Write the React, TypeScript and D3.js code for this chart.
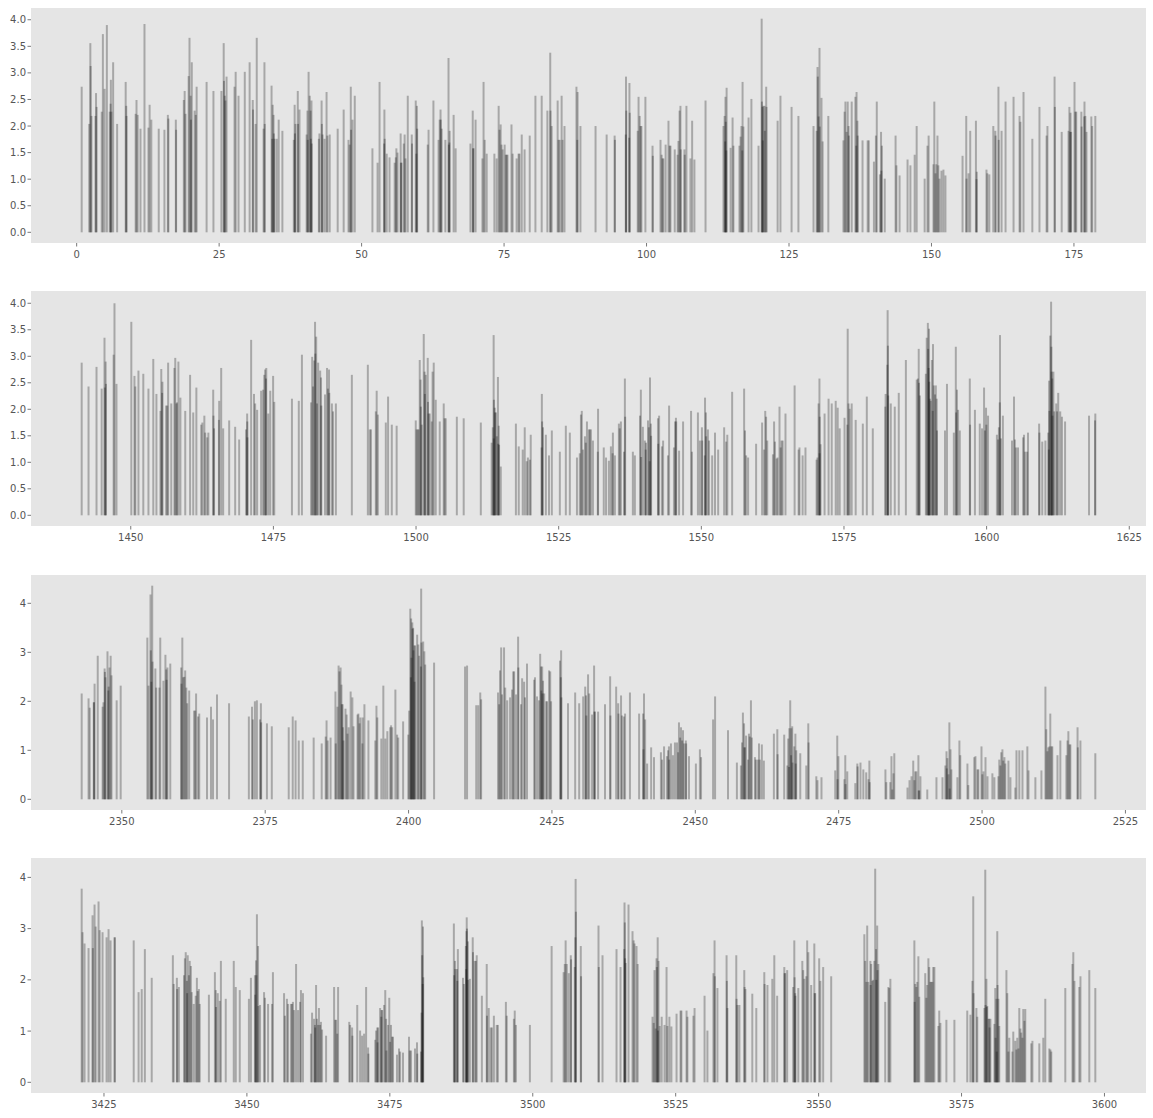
import React from 'react';
import * as d3 from 'd3';

// Each entry: [time, value]
const panel1: [number, number][] = [
[0.88,2.74],
[2.2,2.04],[2.4,3.56],[2.45,3.13],[2.6,2.19],
[3.3,2.19],[3.4,2.62],[3.5,2.36],
[4.4,2.27],[4.6,3.73],
[4.9,2.7],[5.3,3.9],
[5.8,2.27],[5.95,2.42],[6.0,2.87],[6.1,2.27],
[6.4,3.2],[7.1,2.04],
[8.6,2.83],[8.7,2.38],[8.75,2.19],
[10.35,2.23],[10.5,2.49],[10.7,2.21],
[11.2,1.95],[11.9,3.92],
[12.6,1.97],[12.8,2.4],[13.1,2.12],
[14.4,1.95],[15.4,1.93],[16.0,2.21],[16.1,2.14],
[17.4,2.12],[17.45,1.93],
[18.8,2.49],[18.95,2.66],[19.1,2.23],
[19.65,2.94],[19.8,3.66],[20.0,2.57],[20.05,2.12],[20.2,3.2],
[20.7,2.29],[20.9,2.21],[21.05,2.74],
[22.8,2.83],[24.0,2.66],
[25.4,2.66],[25.8,3.56],[25.85,2.85],[26.0,2.57],[26.1,2.48],[26.3,2.93],
[27.7,2.74],[27.9,3.02],[28.4,2.57],
[29.5,3.02],[30.35,3.2],[30.9,2.49],[30.95,2.31],
[31.4,2.04],[31.6,3.66],
[32.8,1.95],[32.95,3.2],[33.0,2.04],
[34.2,2.76],[34.3,1.76],[34.4,2.4],[34.55,2.21],[34.6,1.86],[34.7,1.76],[35.1,1.76],[35.45,2.12],[36.1,1.91],
[38.1,1.74],[38.25,2.4],[38.3,1.86],[38.4,2.04],[38.8,2.66],[38.85,2.04],[39.1,2.31],
[40.35,1.84],[40.5,2.29],[40.55,1.74],[40.7,3.02],[40.9,2.57],[41.05,2.29],[41.1,1.76],[41.2,2.48],[41.25,1.67],
[42.5,1.76],[42.6,1.86],[42.98,2.48],[43.03,2.04],[43.15,1.84],[43.5,1.76],[43.85,2.64],[44.0,1.82],[44.4,1.84],
[45.8,1.95],[46.85,2.31],
[47.7,1.74],[47.9,1.65],[48.1,2.74],[48.15,1.93],[48.4,2.12],[48.8,2.57],
[51.9,1.58],[52.8,1.31],[53.15,2.83],
[53.95,1.67],[54.0,2.31],[54.05,1.76],[54.4,1.48],[54.9,1.41],
[55.8,1.31],[56.0,1.41],[56.1,1.58],[56.3,1.5],[56.85,1.86],[56.9,1.31],[57.0,1.31],[57.4,1.67],[57.55,1.84],[57.7,1.39],[58.1,2.57],[58.8,1.84],[58.85,1.67],[59.5,2.48],[59.6,1.48],[59.7,2.38],[59.75,1.95],
[61.6,1.65],[61.75,1.93],[62.6,2.48],
[63.5,1.74],[63.7,2.12],[63.85,2.31],[63.9,2.12],[64.05,1.95],
[64.7,1.74],[65.25,3.28],[65.3,1.65],[65.4,1.69],[65.45,1.91],[66.15,2.21],[66.5,1.58],
[69.1,1.67],[69.5,2.29],[69.55,1.58],[69.65,1.58],[70.0,2.12],
[71.2,1.39],[71.4,2.83],[71.6,1.74],[71.95,1.48],
[73.3,1.48],[73.7,1.39],[74.05,2.38],[74.2,1.93],[74.4,2.03],[74.55,1.65],[74.75,1.56],[75.1,1.65],[75.3,1.46],[75.45,1.46],[75.6,1.46],
[76.3,2.03],[76.5,1.48],[77.2,1.39],[77.55,1.48],[77.7,1.48],[78.1,1.84],[78.6,1.56],[79.5,1.82],
[80.5,2.57],[81.6,2.57],[82.6,2.29],[83.1,3.38],[83.15,2.29],[83.35,2.0],
[84.4,2.48],[84.55,1.74],[84.75,1.74],[85.1,2.57],[85.25,1.74],[85.6,2.0],
[87.7,2.74],[87.85,1.74],[87.9,2.64],[88.4,2.0],
[91.05,2.0],[93.0,1.84],[94.4,1.82],[94.45,1.74],
[96.35,1.84],[96.4,2.93],[96.45,2.29],[96.95,1.78],[97.0,2.81],[97.05,2.25],
[98.45,1.91],[98.6,2.55],[98.8,2.19],[98.95,2.0],[99.1,2.0],[99.8,2.55],
[101.05,1.63],[101.1,1.44],
[102.45,1.74],[102.65,1.46],[102.8,1.39],[102.95,1.39],[103.35,1.65],[103.85,2.1],[104.05,1.63],[104.2,1.63],
[104.95,1.56],[105.45,1.46],[105.6,1.72],[105.8,2.29],[105.95,2.38],[106.0,1.56],[106.65,1.56],[106.7,1.46],[107.0,2.38],[107.7,1.39],[108.0,2.1],[108.4,1.37],
[110.35,2.48],
[113.5,2.0],[113.7,2.19],[113.8,1.71],[113.85,2.55],[113.9,2.08],[114.0,1.54],[114.05,2.72],[114.75,1.59],[115.1,2.16],[115.25,1.63],
[116.3,1.63],[116.5,1.8],[116.65,2.0],[116.8,1.54],[116.85,2.83],[117.0,1.99],
[117.9,2.16],[118.4,2.51],
[119.65,1.63],[120.2,4.02],[120.25,2.46],[120.35,2.36],[120.4,1.73],[120.5,2.38],[120.7,2.38],[120.75,1.91],[121.0,2.74],[121.05,2.36],
[123.0,2.1],[123.5,2.57],[125.45,2.36],[126.65,2.19],
[129.3,2.0],[129.85,1.91],[130.0,3.11],[130.05,2.93],[130.2,2.18],[130.35,3.47],[130.4,1.99],[130.7,2.53],[130.9,1.71],[131.9,2.19],
[134.55,1.73],[134.75,2.27],[134.9,2.46],[135.1,1.89],[135.3,2.46],[135.45,2.0],[135.5,1.82],[136.0,2.46],[136.65,2.55],[136.8,1.63],[136.85,2.64],[137.0,2.1],[137.05,1.82],[137.9,1.73],
[138.8,1.73],[139.0,1.73],
[139.9,1.33],[140.25,1.82],[140.4,2.46],[140.95,1.09],[141.15,1.89],[141.2,1.16],[141.3,1.63],[141.8,1.01],
[143.7,1.82],[143.85,1.26],[144.4,1.07],
[145.8,1.37],[146.3,1.26],[147.05,1.46],[147.4,2.0],
[148.8,1.01],[149.3,1.63],[149.5,1.82],[150.35,1.28],[150.5,2.46],[150.7,1.11],[150.85,1.28],[151.05,1.82],[151.2,1.26],[151.4,1.01],[151.75,1.16],[152.1,1.18],[152.45,1.07],
[155.45,1.44],[156.1,2.19],[156.15,1.01],[156.5,1.11],[156.8,1.91],[157.8,2.1],[157.9,1.0],[157.95,1.14],
[159.65,1.18],[159.8,1.11],[160.15,1.09],[160.85,2.0],[161.2,1.91],[161.25,1.82],[161.75,2.74],[161.8,1.74],[162.3,1.91],[163.0,2.46],
[164.4,2.55],[165.45,2.19],[165.6,2.08],[166.15,2.64],
[167.7,1.76],[168.95,2.36],[170.2,1.82],[170.35,2.0],[171.6,2.93],[171.65,2.36],[172.85,1.89],
[174.05,1.91],[174.2,2.36],[174.35,1.89],[174.4,2.25],[174.5,1.89],[175.1,2.83],[175.25,2.27],[175.4,2.27],[176.3,2.27],[176.35,1.99],[176.8,2.18],[176.85,2.46],[177.0,2.19],[177.2,1.89],[178.05,2.18],[178.2,2.0],[178.75,2.19]
];

const panel2: [number, number][] = [
[1441.4,2.88],[1442.6,2.43],[1444.0,2.8],
[1444.9,2.39],[1445.4,3.35],[1445.45,2.41],[1445.6,2.9],[1445.65,2.48],
[1447.0,3.03],[1447.15,4.0],[1447.5,2.48],
[1450.1,3.65],[1450.65,2.63],[1450.8,2.43],[1451.35,2.73],
[1452.2,2.67],[1453.1,2.39],[1453.95,2.95],[1454.5,2.29],
[1455.2,1.97],[1455.35,2.76],[1455.5,2.31],[1455.55,2.52],[1456.2,2.07],[1456.4,2.07],[1456.55,2.88],
[1457.1,2.11],[1457.65,2.78],[1457.8,2.97],[1458.0,2.11],[1458.1,2.13],[1458.35,2.9],[1458.7,2.22],
[1459.55,1.97],[1460.4,2.65],[1460.95,1.94],[1461.5,2.41],
[1462.35,1.71],[1462.55,1.75],[1462.9,1.88],[1463.05,1.56],[1463.4,1.47],[1463.6,1.56],[1464.45,2.37],[1464.5,1.88],[1464.6,1.64],
[1465.45,1.8],[1465.5,2.16],[1465.85,2.78],[1466.2,1.64],
[1467.25,1.79],[1468.3,1.67],[1469.0,1.43],
[1470.2,1.62],[1470.4,1.92],[1470.42,1.77],[1470.45,1.47],[1471.1,3.31],[1471.6,2.29],[1471.8,2.11],[1472.15,1.99],
[1472.85,2.35],[1473.2,2.37],[1473.4,2.65],[1473.55,2.75],[1473.7,2.58],[1473.75,2.78],[1474.1,1.92],[1474.45,2.35],[1474.95,2.63],[1475.15,2.14],
[1478.25,2.2],[1479.45,2.16],[1480.0,3.03],
[1481.6,2.13],[1481.8,2.99],[1481.95,2.43],[1482.15,2.92],[1482.3,3.65],[1482.35,3.05],[1482.5,3.37],[1482.65,2.11],[1482.85,2.88],[1483.2,2.73],[1483.35,2.6],[1483.4,2.07],
[1484.05,2.28],[1484.4,2.78],[1484.55,2.39],[1484.75,2.75],[1484.8,2.31],[1485.25,2.11],[1485.45,1.96],[1485.95,2.11],
[1488.75,2.65],
[1491.55,2.84],[1491.9,1.62],[1492.1,1.62],[1492.95,1.96],[1493.1,2.35],[1493.3,1.9],[1494.7,1.75],[1495.1,2.24],[1495.75,1.71],[1496.6,1.69],
[1499.95,1.79],[1500.1,1.62],[1500.3,1.62],[1500.45,1.62],[1500.65,2.93],[1500.8,2.56],[1500.85,2.05],[1501.0,1.71],[1501.35,3.42],[1501.5,2.71],[1501.55,2.29],[1501.7,2.65],[1502.05,2.97],[1502.1,2.14],[1502.2,1.92],[1502.4,1.92],[1502.75,1.77],[1502.9,2.71],[1503.1,2.88],[1503.45,2.18],[1504.15,1.77],[1504.85,2.11],[1505.0,1.83],[1505.2,1.83],
[1507.15,1.86],[1508.35,1.83],[1511.35,1.75],
[1513.25,1.37],[1513.45,1.66],[1513.6,3.4],[1513.62,1.45],[1513.65,2.18],[1513.8,2.03],[1513.85,1.94],[1514.0,1.94],[1514.15,1.49],[1514.35,2.61],[1514.4,1.35],[1514.5,1.69],[1514.55,1.33],[1514.85,0.92],
[1517.5,1.73],[1518.0,1.3],[1518.7,1.24],[1519.05,1.66],[1519.4,1.02],[1519.6,1.09],[1519.95,1.05],[1520.1,1.52],
[1522.0,1.28],[1522.05,2.29],[1522.1,1.77],[1522.25,1.66],[1522.75,1.52],[1523.3,1.13],[1523.8,1.6],
[1525.2,1.2],[1526.25,1.69],[1526.95,1.56],
[1528.2,1.09],[1528.7,1.17],[1528.9,1.9],[1529.05,1.97],[1529.25,1.24],[1529.6,1.49],[1529.75,1.37],[1529.95,1.77],[1530.3,1.62],[1530.45,1.62],[1530.65,1.62],[1531.0,1.41],[1531.85,1.2],[1531.9,2.01],
[1532.9,1.28],[1533.3,1.09],[1533.8,1.03],[1534.15,1.3],[1534.45,1.17],[1534.5,1.56],[1534.85,1.13],[1535.55,1.73],[1535.7,1.64],[1535.9,1.77],[1536.45,1.2],[1536.6,2.58],[1536.65,1.86],
[1538.0,1.2],[1538.35,1.13],[1539.25,1.88],[1539.4,2.37],[1539.45,1.1],[1539.75,1.67],[1540.1,1.41],[1540.25,1.24],[1540.3,1.37],[1540.65,1.79],[1540.8,1.66],[1540.95,1.02],[1541.0,2.6],[1541.15,1.73],[1541.2,1.5],
[1542.4,1.83],[1542.45,1.35],[1542.6,1.88],[1543.1,1.3],[1543.3,1.41],[1544.15,1.13],[1544.35,2.07],[1545.2,1.28],[1545.4,1.77],[1545.55,1.84],[1545.6,1.77],[1546.1,1.22],[1546.8,1.77],
[1548.2,1.97],[1548.35,1.2],[1549.4,1.94],[1549.75,1.41],[1550.1,1.66],[1550.15,1.41],[1550.6,1.13],[1550.65,2.22],[1550.8,1.94],[1550.85,1.49],[1551.15,1.62],[1551.35,1.41],[1551.9,1.13],[1552.4,1.56],[1552.95,1.24],
[1554.0,1.66],[1554.35,1.39],[1554.55,1.52],[1555.4,2.33],
[1557.5,2.39],[1557.65,1.6],[1557.85,1.13],[1558.2,1.09],[1559.6,1.35],[1560.65,1.75],[1561.0,1.24],[1561.2,1.97],[1561.35,1.86],[1561.55,1.41],[1562.55,1.15],[1562.75,1.77],[1562.9,1.39],
[1563.2,1.07],[1563.35,1.09],[1563.7,2.05],[1563.9,1.28],[1564.05,1.41],[1564.25,1.41],[1564.75,1.92],
[1566.35,2.45],[1567.05,1.24],[1567.2,1.28],[1567.75,1.13],[1568.25,1.28],
[1570.2,1.05],[1570.35,1.09],[1570.55,2.11],[1570.7,2.58],[1570.72,1.17],[1570.75,1.86],[1570.9,1.34],[1571.6,1.92],[1572.3,2.2],[1572.85,2.11],[1573.55,2.16],[1573.9,2.03],[1574.25,1.64],
[1575.1,1.84],[1575.6,1.71],[1575.65,3.52],[1575.8,2.11],[1576.0,2.01],[1576.35,2.11],[1577.05,1.8],
[1578.3,1.73],[1579.0,2.24],[1580.05,1.64],
[1582.25,2.05],[1582.3,2.29],[1582.6,2.84],[1582.65,3.87],[1582.7,3.2],[1582.75,2.26],[1583.2,2.11],[1583.9,2.05],[1584.6,2.31],[1585.85,2.93],
[1587.75,2.56],[1587.95,2.58],[1588.1,3.14],[1588.15,2.5],[1588.3,2.26],[1589.35,2.67],[1589.5,3.35],[1589.7,3.63],[1589.75,3.14],[1589.85,2.78],[1589.9,3.52],[1589.95,2.52],[1590.05,2.2],[1590.2,2.16],[1590.4,2.93],[1590.55,1.97],[1590.6,3.23],[1590.75,2.45],[1590.95,2.28],[1591.1,2.45],[1591.25,2.2],[1591.3,1.6],
[1592.7,1.6],[1593.05,2.48],[1594.25,1.56],[1594.6,3.18],[1594.65,1.94],[1594.8,2.37],[1595.0,1.99],[1595.3,1.6],
[1597.05,2.58],[1597.1,1.71],[1597.95,1.99],[1598.8,1.73],[1599.2,1.64],[1599.55,2.41],[1599.7,1.6],[1599.9,2.03],[1599.95,1.71],[1600.25,1.88],
[1601.8,1.52],[1602.0,1.43],[1602.15,1.66],[1602.3,2.13],[1602.35,3.4],[1602.5,1.45],[1602.85,1.88],
[1604.45,1.41],[1604.8,2.24],[1604.95,1.43],[1605.15,1.28],[1605.5,1.28],
[1606.4,1.47],[1606.55,1.52],[1606.75,1.2],[1607.1,1.2],[1607.25,1.56],
[1609.2,1.73],[1609.25,1.56],[1609.75,1.39],[1610.3,1.41],[1610.8,1.56],[1610.9,1.24],[1610.95,2.54],[1611.0,1.97],[1611.15,3.39],[1611.3,4.03],[1611.35,3.18],[1611.4,2.71],[1611.5,2.58],[1611.55,1.88],[1611.7,2.71],[1611.85,1.96],[1612.2,2.11],[1612.35,1.96],[1612.55,2.31],[1612.9,1.96],[1613.2,1.86],[1613.75,1.77],
[1617.95,1.88],[1619.0,1.79],[1619.05,1.92]
];

const panel3: [number, number][] = [
[2343.0,2.16],[2344.2,2.06],[2344.4,1.87],[2345.1,1.98],[2345.15,1.98],[2345.25,2.36],[2345.8,2.93],
[2346.65,1.89],[2346.8,1.98],[2347.0,2.67],[2347.05,2.6],[2347.15,2.49],[2347.5,3.02],[2347.65,2.22],[2347.7,2.3],[2347.85,2.69],[2348.05,2.93],[2348.2,2.53],[2349.1,2.02],[2349.8,2.32],
[2354.45,3.3],[2354.65,2.32],[2355.0,4.18],[2355.05,3.04],[2355.15,2.4],[2355.3,4.36],[2355.35,2.81],[2355.85,2.67],[2356.0,2.28],[2356.55,2.28],[2356.7,3.3],[2357.25,2.42],[2357.6,2.95],[2357.75,2.65],[2357.8,2.44],[2357.95,2.69],[2358.45,2.77],
[2360.35,2.69],[2360.4,2.36],[2360.55,3.3],[2360.7,2.49],[2360.9,2.5],[2361.05,2.63],[2361.25,2.28],[2361.4,1.96],[2361.75,2.22],[2362.6,1.81],[2362.8,1.81],[2362.95,2.16],[2363.3,1.69],[2363.5,1.75],
[2364.85,1.67],[2365.55,1.89],[2365.9,1.63],[2366.6,2.14],[2368.7,1.96],
[2372.15,1.69],[2372.7,1.89],[2372.85,1.63],[2373.2,2.0],[2373.55,2.02],[2374.1,1.63],[2374.25,1.96],[2374.3,1.57],[2375.3,1.55],[2376.15,1.49],
[2379.1,1.47],[2379.8,1.69],[2380.3,1.61],[2380.85,1.2],[2381.55,1.2],
[2383.45,1.26],[2384.85,1.14],[2385.55,1.28],[2385.7,1.61],[2385.9,1.2],[2386.4,1.26],
[2387.25,2.2],[2387.3,1.14],[2387.6,1.89],[2387.8,2.73],[2387.95,2.61],[2388.15,2.69],[2388.3,2.34],[2388.35,1.94],[2388.5,1.94],[2388.55,1.47],[2388.65,1.2],[2389.0,1.85],[2389.2,1.73],[2389.35,1.34],[2389.55,1.47],[2389.9,2.2],[2390.2,2.08],[2390.4,1.49],[2391.1,1.73],[2391.25,1.75],[2391.45,1.55],[2391.6,1.67],[2391.95,1.14],[2392.0,1.67],[2392.3,1.94],[2393.0,1.61],
[2394.2,1.2],[2394.4,1.91],[2394.55,1.67],[2395.25,1.24],[2395.6,2.32],[2395.95,1.24],[2396.3,1.39],
[2396.8,1.47],[2396.95,1.51],[2397.15,1.47],[2397.7,2.24],[2398.0,1.32],[2398.2,1.26],[2399.05,1.59],
[2399.95,1.32],[2400.1,1.81],[2400.3,3.89],[2400.4,2.49],[2400.45,3.69],[2400.5,2.89],[2400.65,3.61],[2400.7,3.48],[2400.8,3.5],[2400.85,3.04],[2401.0,3.14],[2401.05,2.4],[2401.15,3.14],[2401.5,3.36],[2401.7,3.16],[2401.85,2.93],[2402.15,2.71],[2402.2,4.3],[2402.25,3.2],[2402.55,3.22],[2402.75,3.02],[2402.9,2.75],[2404.45,2.79],
[2409.85,2.71],[2410.2,2.73],[2411.8,1.92],[2412.15,1.92],[2412.5,2.18],[2412.65,2.04],
[2415.6,2.18],[2415.8,1.94],[2415.95,2.63],[2416.15,3.1],[2416.3,2.14],[2416.65,3.1],[2416.85,2.28],[2417.2,2.02],[2417.7,2.08],[2418.05,2.24],[2418.25,2.61],[2418.4,2.61],[2418.75,2.14],[2419.1,3.32],[2419.15,2.69],[2419.6,1.94],[2419.8,2.47],[2420.15,2.4],[2420.3,2.08],[2420.65,2.77],
[2421.9,2.44],[2422.05,2.49],[2422.4,2.1],[2422.75,2.02],[2422.95,2.97],[2423.1,2.71],[2423.15,2.22],[2423.3,2.71],[2423.35,2.16],[2423.45,2.42],[2423.65,2.16],[2424.0,2.0],[2424.15,2.0],[2424.5,2.63],[2424.7,2.61],[2424.85,2.0],
[2426.4,2.83],[2426.55,2.49],[2426.6,3.04],[2426.65,2.08],[2427.8,1.96],[2429.05,2.18],[2429.75,1.96],[2430.45,2.1],[2430.8,2.3],[2430.95,2.12],[2431.0,1.71],[2431.3,2.55],[2431.5,2.16],[2432.0,1.73],[2432.35,2.73],[2432.4,1.79],[2432.5,1.79],[2433.05,1.79],
[2434.25,1.94],[2435.15,2.51],[2435.2,1.71],[2436.2,2.3],[2436.55,1.96],[2436.6,1.75],[2437.05,2.12],[2437.2,1.71],[2437.55,1.69],[2437.75,1.75],[2438.6,2.18],
[2440.2,1.75],[2440.9,1.75],[2440.95,1.02],[2441.05,2.16],[2441.25,1.63],[2441.6,0.73],[2442.3,1.06],[2442.8,0.86],
[2444.0,0.96],[2444.2,0.81],[2444.55,1.08],[2445.05,0.88],[2445.25,1.0],[2445.4,1.08],[2445.45,0.81],[2445.75,1.14],[2446.1,0.9],[2446.45,1.16],[2446.8,1.16],[2447.0,0.96],[2447.15,1.57],[2447.35,1.26],[2447.5,1.47],[2447.7,1.2],[2447.85,1.41],[2448.05,1.14],[2448.35,1.2],[2448.4,1.14],[2448.9,0.88],[2450.1,0.73],[2450.8,1.02],[2451.0,0.86],
[2453.1,1.63],[2453.45,2.1],[2455.7,1.41],
[2457.25,0.75],[2457.95,0.69],[2458.15,1.16],[2458.3,1.77],[2458.5,1.55],[2458.55,1.06],[2458.65,1.06],[2458.85,1.3],[2459.2,0.81],[2459.35,1.34],[2459.5,1.28],[2459.7,2.02],[2459.85,1.26],[2460.4,0.86],[2460.55,0.81],[2460.9,0.81],[2461.1,1.14],[2461.25,0.81],[2461.6,1.12],[2461.95,0.79],
[2463.7,1.34],[2464.3,1.43],[2464.35,0.92],[2465.5,1.32],[2466.05,0.69],[2466.2,1.24],[2466.35,0.66],[2466.4,1.45],[2466.55,2.02],[2466.7,0.9],[2466.75,1.45],[2466.9,1.49],[2466.95,0.75],[2467.25,1.08],[2467.45,1.34],[2467.5,0.73],[2467.6,1.0],[2468.3,0.94],[2469.35,0.69],[2469.7,1.55],[2469.75,1.16],[2471.1,0.47],[2471.3,0.39],[2472.0,0.45],
[2474.4,0.59],[2474.75,1.3],[2474.8,0.41],[2474.95,0.88],[2476.0,0.41],[2476.15,0.9],[2476.2,0.31],[2476.5,0.57],[2477.9,0.33],[2478.25,0.73],[2478.3,0.67],[2478.8,0.75],[2479.3,0.61],[2479.8,0.55],[2480.2,0.41],[2480.35,0.79],[2480.4,0.35],
[2483.15,0.61],[2483.3,0.35],[2484.0,0.35],[2484.2,0.88],[2484.35,0.2],[2484.55,0.53],[2484.7,0.94],
[2487.0,0.24],[2487.35,0.39],[2487.7,0.47],[2488.0,0.79],[2488.2,0.39],[2488.35,0.57],[2488.55,0.57],[2488.9,0.9],[2488.95,0.18],[2489.05,0.18],[2489.25,0.47],[2490.45,0.2],
[2492.05,0.45],[2493.1,0.45],[2493.6,0.69],[2493.8,0.98],[2493.85,0.63],[2493.95,0.84],[2494.15,0.51],[2494.3,1.57],[2494.35,0.22],[2494.5,1.02],[2494.65,0.61],[2495.7,0.45],[2496.05,1.2],[2496.2,0.9],[2497.45,0.73],[2497.6,0.29],[2498.65,0.86],[2498.85,0.88],[2499.2,0.61],[2499.35,0.61],[2499.9,1.08],[2500.05,0.51],[2500.25,0.57],[2500.6,0.86],[2500.95,0.47],[2501.8,0.53],[2502.15,0.45],
[2502.85,0.47],[2503.0,0.81],[2503.2,0.69],[2503.35,0.96],[2503.55,1.02],[2503.7,0.79],[2503.9,0.86],[2504.05,0.73],[2504.6,0.79],[2504.95,0.45],[2505.8,0.24],[2506.0,1.0],[2506.5,1.0],[2507.05,1.0],[2507.9,1.08],[2508.1,0.59],[2509.3,0.45],[2510.35,0.59],
[2511.05,2.3],[2511.2,1.43],[2511.4,0.98],[2511.55,1.06],[2511.75,1.08],[2511.9,1.75],[2512.1,1.08],[2512.25,1.08],[2513.15,0.9],[2513.65,1.2],[2514.7,0.9],[2514.9,1.2],[2515.05,1.39],[2515.25,1.12],[2515.4,1.12],[2516.65,1.47],[2516.7,1.06],[2517.15,1.2],[2519.75,0.94]
];

const panel4: [number, number][] = [
[3421.1,3.78],[3421.25,2.93],[3421.6,2.71],
[3422.3,2.62],[3423.0,3.26],[3423.05,2.62],[3423.35,3.47],[3423.55,3.04],[3424.05,3.53],[3424.25,2.97],[3424.75,2.93],[3425.45,2.83],[3425.8,2.99],[3426.15,2.77],[3426.85,2.83],[3426.9,2.83],
[3430.2,2.77],[3431.05,1.76],[3431.6,1.82],[3432.15,2.6],[3433.35,2.04],
[3437.05,2.48],[3437.2,1.92],[3437.75,2.04],[3437.8,1.82],[3438.1,1.86],
[3439.0,2.09],[3439.15,2.42],[3439.3,2.54],[3439.5,1.98],[3439.55,1.74],[3439.65,2.48],[3439.85,2.09],[3440.0,2.37],[3440.2,2.27],[3440.35,1.76],[3440.7,1.53],[3441.05,1.69],[3441.25,2.04],[3441.4,1.78],[3441.6,1.82],[3441.75,1.53],
[3443.35,1.71],[3444.4,2.15],[3444.55,1.8],[3444.6,1.47],[3444.9,1.74],[3445.25,1.59],[3445.45,2.37],[3446.3,1.63],
[3447.7,2.37],[3448.05,1.86],[3448.75,1.8],
[3450.35,1.63],[3450.7,2.04],[3451.4,2.09],[3451.45,1.71],[3451.6,2.38],[3451.65,2.09],[3451.75,3.28],[3451.95,2.66],[3452.0,1.49],[3452.3,1.51],[3453.0,1.76],[3453.15,1.65],[3453.7,1.53],[3454.4,1.53],[3454.55,2.15],
[3456.5,1.74],[3456.65,1.3],[3457.0,1.63],[3457.2,1.53],[3457.7,1.53],[3457.9,1.53],[3458.05,1.57],[3458.25,1.41],[3458.6,2.31],[3458.95,1.41],[3459.3,1.57],[3459.45,1.8],[3459.8,1.74],
[3461.2,0.95],[3461.4,1.36],[3461.75,1.24],[3461.9,1.12],[3461.95,1.07],[3462.1,1.9],[3462.25,1.24],[3462.45,1.12],[3462.6,1.45],[3462.8,1.12],[3462.95,1.18],[3463.15,1.03],[3463.85,0.91],
[3465.25,1.86],[3465.45,1.22],[3465.6,1.22],[3465.8,0.95],[3465.95,1.86],
[3467.9,1.18],[3468.05,1.12],[3468.4,1.07],[3468.45,0.91],[3469.3,1.51],[3469.8,1.01],[3470.15,0.91],[3470.5,0.95],[3470.85,1.86],[3471.2,0.68],[3471.25,0.56],
[3472.45,0.83],[3472.6,1.01],[3472.8,1.07],[3472.85,0.78],[3472.95,1.07],[3473.3,1.45],[3473.5,1.28],[3473.55,1.41],[3473.65,1.41],[3474.0,1.51],[3474.2,1.8],[3474.35,1.24],[3474.4,0.62],[3474.7,1.12],[3474.9,1.65],[3475.05,0.79],
[3475.2,1.12],[3475.4,0.89],[3475.55,0.89],[3476.25,0.54],[3476.6,0.66],[3476.8,0.6],[3477.3,0.58],[3478.35,0.89],[3478.5,0.62],[3478.7,0.62],[3479.4,0.66],[3479.75,0.78],[3479.8,0.56],[3480.45,0.6],[3480.55,1.36],[3480.6,3.16],[3480.65,2.48],[3480.75,1.92],[3480.8,3.04],[3480.85,2.05],
[3486.2,3.1],[3486.25,2.09],[3486.4,2.37],[3486.45,2.21],[3486.75,2.21],[3486.8,1.98],[3486.9,2.6],[3487.8,2.04],[3487.95,1.92],[3488.3,2.66],[3488.35,2.21],[3488.4,2.95],[3488.45,3.22],[3488.5,3.0],[3488.65,2.75],[3488.7,2.0],[3489.0,2.02],[3489.5,2.83],[3489.55,2.54],[3489.85,2.37],[3490.05,2.37],[3490.2,2.48],[3491.1,1.69],[3491.95,2.31],[3492.0,1.3],[3492.3,1.45],[3492.65,1.07],[3492.85,1.07],[3493.2,1.3],[3493.7,1.12],[3493.9,1.12],[3495.3,1.57],[3495.45,1.3],[3496.7,1.24],[3496.85,1.4],[3497.05,1.12],
[3499.5,1.12],[3503.3,2.66],
[3505.4,2.15],[3505.6,2.31],[3505.75,2.77],[3505.95,2.31],[3506.3,2.13],[3506.65,2.48],[3506.7,2.4],[3507.35,2.25],[3507.45,2.83],[3507.5,3.97],[3507.55,3.33],[3508.4,2.66],[3508.45,2.07],
[3511.5,3.06],[3511.55,2.25],[3512.2,2.48],
[3514.65,2.6],[3515.35,2.25],[3516.0,2.6],[3516.05,3.51],[3516.1,3.12],[3516.15,2.42],[3516.25,2.33],[3516.75,3.47],[3517.45,2.95],[3517.65,2.77],[3517.8,2.71],[3518.15,2.66],[3518.35,2.31],
[3520.95,1.28],[3521.15,1.16],[3521.3,2.19],[3521.5,1.05],[3521.65,2.42],[3521.7,2.25],[3521.85,2.83],[3521.9,1.01],[3522.0,2.37],[3522.2,1.1],[3522.55,1.28],[3523.05,1.12],[3523.4,2.25],[3523.55,1.1],[3523.9,1.28],[3524.25,1.09],[3525.15,1.34],[3525.85,1.4],[3526.0,1.4],[3526.9,1.4],[3527.05,1.28],[3528.1,1.3],[3528.3,1.45],
[3530.05,1.69],[3530.55,1.01],[3531.6,2.13],[3531.8,2.77],[3531.85,2.07],[3532.3,1.84],[3533.9,2.48],[3533.95,1.98],[3534.05,1.45],[3535.6,2.48],[3535.65,1.63],[3535.8,1.51],[3536.15,1.51],[3537.0,2.19],[3537.05,1.86],[3537.2,1.82],[3538.4,1.73],[3539.1,1.45],[3540.5,2.15],[3540.55,1.92],[3541.05,1.9],[3541.9,2.02],[3542.25,2.48],[3542.75,1.69],
[3544.0,2.25],[3544.05,2.13],[3544.15,2.13],[3544.5,2.19],
[3545.55,1.86],[3545.75,2.77],[3545.8,2.05],[3545.9,1.74],[3545.95,1.69],[3546.45,1.84],[3547.15,2.37],[3547.3,2.19],[3547.5,2.02],[3547.85,2.07],[3548.0,2.77],[3548.2,2.54],[3548.7,1.9],[3549.25,2.71],[3549.3,1.74],[3549.4,1.74],[3550.1,2.42],[3550.3,1.98],[3550.8,2.25],[3552.2,2.07],
[3558.0,2.89],[3558.15,2.37],[3558.35,1.96],[3558.5,3.06],[3558.7,1.96],[3559.05,2.37],[3559.1,1.9],[3559.2,2.31],[3559.4,1.98],[3559.55,2.0],[3559.75,2.37],[3559.9,4.17],[3560.05,2.6],[3560.1,2.0],[3560.25,3.06],[3560.3,2.19],[3560.45,2.31],[3561.65,1.57],[3562.2,1.86],[3562.35,1.84],[3562.55,2.02],
[3566.75,2.77],[3566.8,1.57],[3566.9,1.92],[3567.1,1.86],[3567.25,1.96],[3567.45,2.46],[3567.6,1.67],[3568.65,2.13],[3568.85,1.65],[3569.0,1.9],[3569.2,2.42],[3569.35,2.25],[3569.55,1.96],[3569.7,1.96],[3569.9,1.96],[3570.05,2.25],[3570.25,2.25],[3570.95,1.1],[3571.1,1.4],[3571.3,1.16],[3572.35,1.22],[3573.75,1.22],
[3576.0,1.4],[3576.55,1.32],[3576.9,1.98],[3577.05,3.63],[3577.1,1.74],[3577.6,1.45],[3577.75,1.28],[3579.0,1.45],[3579.15,4.15],[3579.2,1.51],[3579.35,2.02],[3579.4,1.47],[3579.5,1.49],[3579.7,1.24],[3579.85,1.24],[3579.9,1.07],[3580.05,1.24],[3580.75,1.14],[3580.9,1.84],[3580.95,0.87],[3581.1,1.63],[3581.15,0.6],[3581.25,2.95],[3581.3,1.9],[3581.45,1.63],[3581.6,1.1],[3582.85,2.19],[3583.0,1.74],[3583.2,0.6],[3583.35,0.87],[3583.9,0.6],[3584.05,0.99],[3584.4,0.81],[3584.6,0.64],[3584.75,0.87],[3584.95,0.66],[3585.1,1.45],[3585.3,1.05],[3585.45,0.97],[3585.65,0.87],[3585.8,1.43],[3586.0,1.2],[3586.15,1.43],[3587.2,0.76],[3587.4,0.81],[3588.6,0.76],[3589.3,0.87],[3589.65,1.63],[3590.35,0.66],[3590.55,0.64],[3590.7,0.6],
[3593.15,1.84],[3594.4,2.31],[3594.55,2.54],[3594.75,1.98],[3595.6,1.86],[3595.8,2.07],[3597.35,2.19],[3598.4,1.84]
];

const xTicks1 = [0, 25, 50, 75, 100, 125, 150, 175];
const xTicks2 = [1450, 1475, 1500, 1525, 1550, 1575, 1600, 1625];
const xTicks3 = [2350, 2375, 2400, 2425, 2450, 2475, 2500, 2525];
const xTicks4 = [3425, 3450, 3475, 3500, 3525, 3550, 3575, 3600];
const yTicksHalf = [0, 0.5, 1, 1.5, 2, 2.5, 3, 3.5, 4];
const yTicksInt = [0, 1, 2, 3, 4];

const W = 1153;
const H = 1118;
const LEFT = 31;
const RIGHT = 1146;
const TOPS = [8, 291, 575, 858];
const PH = 235;
const FONT = 'DejaVu Sans, sans-serif';
const TICK_COLOR = '#555555';

type PanelProps = {
  data: [number, number][];
  xTicks: number[];
  yTicks: number[];
  fmt: string;
  top: number;
};

function Panel({ data, xTicks, yTicks, fmt, top }: PanelProps) {
  const [xmin, xmax] = d3.extent(data, (d) => d[0]) as [number, number];
  const pad = (xmax - xmin) * 0.05;
  const x = d3.scaleLinear().domain([xmin - pad, xmax + pad]).range([LEFT, RIGHT]);
  const ymax = d3.max(data, (d) => d[1]) as number;
  const bottom = top + PH;
  const y = d3.scaleLinear().domain([-0.05 * ymax, 1.05 * ymax]).range([bottom, top]);
  const f = d3.format(fmt);
  return (
    <g>
      <rect x={LEFT} y={top} width={RIGHT - LEFT} height={PH} fill="#E5E5E5" />
      <g>
        {data.map((d, i) => (
          <line
            key={i}
            x1={x(d[0])}
            x2={x(d[0])}
            y1={y(0)}
            y2={y(d[1])}
            stroke="#000"
            strokeOpacity={0.27}
            strokeWidth={2}
          />
        ))}
      </g>
      {yTicks.map((t) => (
        <g key={'y' + t}>
          <line x1={LEFT - 3.5} x2={LEFT} y1={y(t)} y2={y(t)} stroke={TICK_COLOR} strokeWidth={0.8} />
          <text
            x={LEFT - 5}
            y={y(t) + 3.6}
            textAnchor="end"
            fontFamily={FONT}
            fontSize={10}
            fill={TICK_COLOR}
          >
            {f(t)}
          </text>
        </g>
      ))}
      {xTicks.map((t) => (
        <g key={'x' + t}>
          <line x1={x(t)} x2={x(t)} y1={bottom} y2={bottom + 3.5} stroke={TICK_COLOR} strokeWidth={0.8} />
          <text
            x={x(t)}
            y={bottom + 15}
            textAnchor="middle"
            fontFamily={FONT}
            fontSize={10}
            fill={TICK_COLOR}
          >
            {t}
          </text>
        </g>
      ))}
    </g>
  );
}

const panels = [
  { data: panel1, xTicks: xTicks1, yTicks: yTicksHalf, fmt: '.1f' },
  { data: panel2, xTicks: xTicks2, yTicks: yTicksHalf, fmt: '.1f' },
  { data: panel3, xTicks: xTicks3, yTicks: yTicksInt, fmt: 'd' },
  { data: panel4, xTicks: xTicks4, yTicks: yTicksInt, fmt: 'd' },
];

export default function App() {
  return (
    <svg
      width={W}
      height={H}
      style={{ position: 'absolute', left: 0, top: 0, background: '#fff' }}
    >
      {panels.map((p, i) => (
        <Panel key={i} data={p.data} xTicks={p.xTicks} yTicks={p.yTicks} fmt={p.fmt} top={TOPS[i]} />
      ))}
    </svg>
  );
}
